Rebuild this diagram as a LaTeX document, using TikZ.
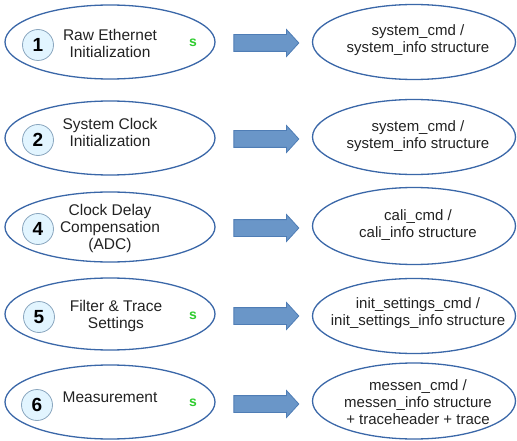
\documentclass[tikz,border=0pt]{standalone}
\usepackage{fontspec}
\setmainfont{Liberation Sans}
\usetikzlibrary{shapes.geometric,shapes.arrows}
\definecolor{ellborder}{HTML}{3A67A8}
\definecolor{arrfill}{HTML}{6A96C8}
\definecolor{arrborder}{HTML}{4F7DB5}
\definecolor{circfill}{HTML}{E2F5FF}
\definecolor{circborder}{HTML}{8AA6BE}
\definecolor{sgreen}{HTML}{2ECC2E}
\definecolor{txt}{HTML}{222222}
\begin{document}
\begin{tikzpicture}[x=1pt,y=-1pt,
  leftell/.style={ellipse,draw=ellborder,line width=1.3pt,minimum width=210pt,minimum height=74pt,inner sep=0pt},
  rightell/.style={ellipse,draw=ellborder,line width=1.3pt,minimum width=203pt,minimum height=75pt,inner sep=0pt},
  numcirc/.style={circle,draw=circborder,fill=circfill,line width=0.8pt,minimum size=31pt,inner sep=0pt,font=\fontsize{19}{19}\selectfont\bfseries,text=black},
  lbl/.style={align=center,font=\fontsize{15.5}{17}\selectfont,text=txt},
  rlbl/.style={align=center,font=\fontsize{15}{17}\selectfont,text=txt},
  sflag/.style={font=\fontsize{14}{14}\selectfont\bfseries,text=sgreen},
  blockarrow/.style={single arrow,draw=arrborder,fill=arrfill,line width=0.8pt,inner xsep=0pt,inner ysep=8pt,minimum height=65pt,single arrow head extend=5pt,single arrow tip angle=95}]
\useasboundingbox (0,0) rectangle (517,441);

% Row 1
\node[leftell] (l1) at (110,42) {};
\node[numcirc] (c1) at (38,45) {1};
\node[lbl] (t1) at (110,43) {Raw Ethernet\\Initialization};
\node[sflag] (s1) at (193,43) {s};
\node[blockarrow] (a1) at (262.5,43) {};
\node[rightell] (r1) at (414,42) {};
\node[rlbl] (rt1) at (418,40) {system\_cmd /\\system\_info structure};

% Row 2
\node[leftell] (l2) at (110,138) {};
\node[numcirc] (c2) at (38,140) {2};
\node[lbl] (t2) at (110,132) {System Clock\\Initialization};
\node[blockarrow] (a2) at (262.5,139) {};
\node[rightell] (r2) at (414,137) {};
\node[rlbl] (rt2) at (418,136) {system\_cmd /\\system\_info structure};

% Row 3 (4)
\node[leftell,minimum height=70pt] (l4) at (110,227) {};
\node[numcirc] (c4) at (38,229) {4};
\node[lbl] (t4) at (110,228) {Clock Delay\\Compensation\\(ADC)};
\node[blockarrow] (a4) at (262.5,228) {};
\node[rightell,minimum height=77pt] (r4) at (414,226) {};
\node[rlbl] (rt4) at (418,225) {cali\_cmd /\\cali\_info structure};

% Row 4 (5)
\node[leftell,minimum height=72pt] (l5) at (110,314) {};
\node[numcirc] (c5) at (39,317) {5};
\node[lbl] (t5) at (116,316) {Filter \& Trace\\Settings};
\node[sflag] (s5) at (193,316) {s};
\node[blockarrow] (a5) at (262.5,316) {};
\node[rightell] (r5) at (414,316) {};
\node[rlbl] (rt5) at (418,313) {init\_settings\_cmd /\\init\_settings\_info structure};

% Row 5 (6)
\node[leftell] (l6) at (110,402) {};
\node[numcirc] (c6) at (37,405) {6};
\node[lbl] (t6) at (110,397) {Measurement};
\node[sflag] (s6) at (193,403) {s};
\node[blockarrow] (a6) at (262.5,404) {};
\node[rightell,minimum height=76pt] (r6) at (414,401) {};
\node[rlbl] (rt6) at (418,402) {messen\_cmd /\\messen\_info structure\\+ traceheader + trace};
\end{tikzpicture}
\end{document}
